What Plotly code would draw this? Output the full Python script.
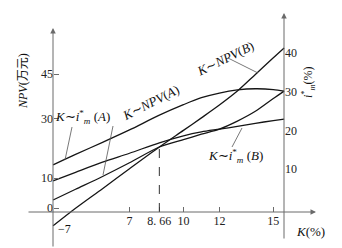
import plotly.graph_objects as go

# ---------------- data ----------------
K = [2.75, 4, 5.5, 7, 8.66, 10, 11, 12, 13, 14, 15, 15.6]          # K (%)
npv_a = [2.7, 6.3, 10.6, 15.2, 20.5, 23.0, 24.8, 26.5, 29.2, 32.5, 36.8, 39.3]   # NPV(A)
npv_b = [-6.0, -0.1, 6.5, 13.2, 20.5, 26.1, 30.3, 34.6, 39.3, 44.9, 50.5, 53.8]  # NPV(B)
im_a = [11.1, 13.8, 16.9, 20.1, 23.9, 26.6, 28.4, 29.6, 30.4, 30.7, 30.5, 30.1]  # i*_m(A)
im_b = [7.0, 9.2, 11.8, 14.1, 16.8, 18.6, 19.6, 20.3, 21.0, 21.8, 22.5, 22.9]    # i*_m(B)

x_ticks = [7, 8.66, 10, 12, 15]
x_ticktext = ["7", "8. 66", "10", "12", "15"]
npv_ticks = [45, 30, 10, 0]
im_ticks = [10, 20, 30, 40]
k_cross = 8.66

# ---------------- layout helpers ----------------
W, H = 342, 248
def px(x, y):
    return x / W, 1 - y / H

# linear scales (pixel -> value) used to set axis ranges
def k_of(x):
    return 10.532 + (x - 193) / 17.98
def npv_of(y):
    return 15.6 + (161.6 - y) / 2.975
def im_of(y):
    return 25 + (110.9 - y) / 3.885

SERIF = "Liberation Serif, Times New Roman, serif"
CJK = "Liberation Serif, Noto Sans CJK SC, serif"
LC = "#151515"
AC = "#6a6a6a"

fig = go.Figure()
for ys, ax in [(npv_a, "y"), (npv_b, "y"), (im_a, "y2"), (im_b, "y2")]:
    fig.add_trace(go.Scatter(x=K, y=ys, yaxis=ax, mode="lines",
                             line=dict(color=LC, width=1.3, shape="spline", smoothing=0.8),
                             showlegend=False, hoverinfo="skip"))

x_axis_y = 212
fig.update_layout(
    width=W, height=H, margin=dict(l=0, r=0, t=0, b=0),
    paper_bgcolor="white", plot_bgcolor="white",
    font=dict(family=SERIF, size=12, color="#222"),
    xaxis=dict(range=[k_of(0), k_of(W)], anchor="free", position=px(0, x_axis_y)[1],
               showgrid=False, zeroline=False, showline=False,
               tickvals=x_ticks, ticktext=x_ticktext, ticks="inside", ticklen=5,
               tickcolor=AC, tickfont=dict(family=SERIF, size=12, color="#222")),
    yaxis=dict(range=[npv_of(H), npv_of(0)], anchor="free", position=px(53, 0)[0],
               showgrid=False, zeroline=False, showline=False,
               tickvals=npv_ticks, ticks="inside", ticklen=5, tickcolor=AC,
               tickfont=dict(family=SERIF, size=12, color="#222")),
    yaxis2=dict(range=[im_of(H), im_of(0)], overlaying="y", anchor="free",
                position=px(284, 0)[0], side="right",
                showgrid=False, zeroline=False, showline=False,
                tickvals=im_ticks, ticks="",
                tickfont=dict(family=SERIF, size=12, color="#222")),
)

# axis lines with arrows
def arrow(x0, y0, x1, y1):
    hx, hy = px(x1, y1)
    fig.add_annotation(x=hx, y=hy, xref="paper", yref="paper", text="",
                       showarrow=True, ax=x0 - x1, ay=y0 - y1, axref="pixel", ayref="pixel",
                       arrowhead=2, arrowsize=1.1, arrowwidth=1, arrowcolor=AC)
arrow(53, 248, 53, 28)
arrow(284, 240, 284, 13)
arrow(27, x_axis_y, 316, x_axis_y)

# dashed line at the crossing of the two NPV curves
i_c = K.index(k_cross)
fig.add_shape(type="line", xref="x", yref="y", x0=k_cross, x1=k_cross,
              y0=npv_of(x_axis_y), y1=npv_a[i_c],
              line=dict(color="#333", width=1, dash="dash"))

# leader lines
def seg(x0, y0, x1, y1):
    a, b = px(x0, y0)
    c, d = px(x1, y1)
    fig.add_shape(type="line", xref="paper", yref="paper", x0=a, y0=b, x1=c, y1=d,
                  line=dict(color="#555", width=0.8))
seg(72, 127, 65, 160)     # i*(A)
seg(113, 126, 103, 175)   # NPV(A)
seg(228, 58, 258, 73)     # NPV(B)
seg(242, 128, 232, 147)   # i*(B)

def label(x, y, text, angle=0, size=13, family=SERIF, xanchor="center"):
    a, b = px(x, y)
    fig.add_annotation(x=a, y=b, xref="paper", yref="paper", text=text, showarrow=False,
                       textangle=angle, xanchor=xanchor, yanchor="middle",
                       font=dict(family=family, size=size, color="#111"))

label(56, 229, "−7", size=12, xanchor="left")
label(23, 81, "<i>NPV</i>(万元)", angle=-90, size=12, family=CJK)
label(309, 82, "<i>i</i><sup>*</sup><sub><i>m</i></sub>(%)", angle=-90, size=12)
label(310, 231, "<i>K</i>(%)", size=13)
label(82, 117, "<i>K</i>∼<i>i</i><sup>*</sup><sub><i>m</i></sub> (<i>A</i>)", size=13)
label(235, 156, "<i>K</i>∼<i>i</i><sup>*</sup><sub><i>m</i></sub> (<i>B</i>)", size=13)
label(151, 103, "<i>K</i>∼<i>NPV</i>(<i>A</i>)", angle=-27, size=13)
label(225, 58, "<i>K</i>∼<i>NPV</i>(<i>B</i>)", angle=-26, size=13)

fig.write_html("out.html")
